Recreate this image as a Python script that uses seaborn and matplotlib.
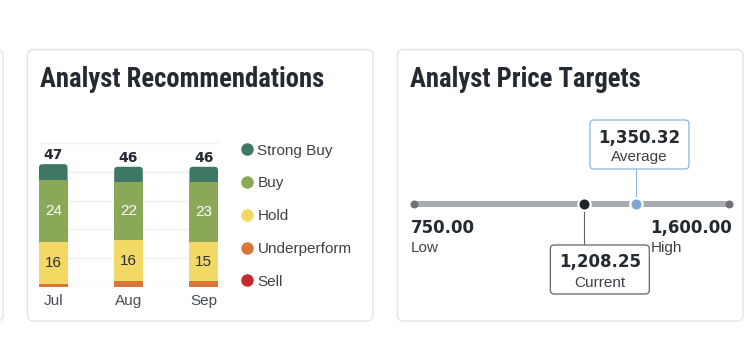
import matplotlib
matplotlib.use("Agg")
import matplotlib.pyplot as plt
from matplotlib.patches import FancyBboxPatch
from matplotlib.lines import Line2D
import pandas as pd
import seaborn as sns

# ---- data -------------------------------------------------------------
months = ["Jul", "Aug", "Sep"]
strong_buy = [6, 6, 6]
buy = [24, 22, 23]
hold = [16, 16, 15]
underperform = [1, 2, 2]
sell = [0, 0, 0]

categories = ["Strong Buy", "Buy", "Hold", "Underperform", "Sell"]
cat_colors = ["#3d7866", "#8aa857", "#f2d865", "#d9773b", "#c42a2e"]

price_low = 750.00
price_high = 1600.00
price_current = 1208.25
price_average = 1350.32
price_labels = ["Low", "High", "Current", "Average"]

# ---- style ------------------------------------------------------------
W, H = 756, 342
sns.set_theme(style="white")
plt.rcParams["font.family"] = ["Liberation Sans", "DejaVu Sans"]

DARK = "#232a31"
TEXT = "#3b4148"
NUM_FONT = dict(family="DejaVu Sans", weight="bold")
WORD_SIZE = 11
NUM_SIZE = 12

fig = plt.figure(figsize=(W / 100, H / 100), dpi=100)
fig.patch.set_facecolor("white")


def px_rect(x0, y0, x1, y1):
    """Axes rectangle from pixel edges (y measured from the top)."""
    return [x0 / W, 1 - y1 / H, (x1 - x0) / W, (y1 - y0) / H]


# pixel-space canvas for cards and titles
bg = fig.add_axes([0, 0, 1, 1], zorder=0)
bg.set_xlim(0, W)
bg.set_ylim(H, 0)
bg.axis("off")

for x0, x1 in [(-40, 3), (27.5, 373), (397.5, 743)]:
    bg.add_patch(FancyBboxPatch((x0, 49.5), x1 - x0, 321 - 49.5,
                                boxstyle="round,pad=0,rounding_size=6",
                                fc="white", ec="#e3e3e3", lw=1))

title_kw = dict(family="Roboto Condensed", weight="bold",
                fontsize=19.2, color=DARK, va="baseline")
bg.text(40, 86.7, "Analyst Recommendations", **title_kw)
bg.text(410, 86.7, "Analyst Price Targets", **title_kw)

# ---- recommendations: stacked bars ------------------------------------
ax = fig.add_axes(px_rect(39, 143.3, 218, 286.7), zorder=1)
ax.patch.set_alpha(0)

df = pd.DataFrame({"month": months, "Strong Buy": strong_buy, "Buy": buy,
                   "Hold": hold, "Underperform": underperform, "Sell": sell})
stack = ["Sell", "Underperform", "Hold", "Buy", "Strong Buy"]
tops = df[stack].cumsum(axis=1)
color_map = dict(zip(categories, cat_colors))

ax.set_ylim(0, 55)
ax.set_yticks([0, 11, 22, 33, 44, 55])
ax.grid(axis="y", color="#efefef", lw=1)
ax.set_axisbelow(True)

bar_w = 0.38
for k, name in enumerate(reversed(stack)):
    n_before = len(ax.patches)
    sns.barplot(x=df["month"], y=tops[name], color=color_map[name],
                width=bar_w, saturation=1, edgecolor="none", linewidth=0,
                ax=ax, zorder=2)
    if k == 0:
        # round the top corners of the outer (total) bars
        ax.set_xlim(-bar_w / 2, len(months) - 1 + bar_w / 2)
        fig.canvas.draw()
        p0 = ax.transData.transform((0, 0))
        p1 = ax.transData.transform((1, 1))
        aspect = (p1[0] - p0[0]) / (p1[1] - p0[1])
        rad_px = 3.5
        for rect in list(ax.patches[n_before:]):
            x, y = rect.get_x(), rect.get_y()
            w, h = rect.get_width(), rect.get_height()
            rect.remove()
            ax.add_patch(FancyBboxPatch(
                (x, y), w, h,
                boxstyle=f"round,pad=0,rounding_size={rad_px / (p1[0] - p0[0])}",
                mutation_aspect=aspect, fc=color_map[name], ec="none",
                lw=0, zorder=2))

ax.set_xlim(-bar_w / 2, len(months) - 1 + bar_w / 2)
ax.set_ylim(0, 55)
ax.set_xlabel("")
ax.set_ylabel("")
sns.despine(ax=ax, left=True, bottom=True)
ax.tick_params(axis="y", length=0, labelleft=False)
ax.tick_params(axis="x", length=0, pad=5, labelsize=WORD_SIZE,
               labelcolor="#464e56")

for i in range(len(months)):
    total = int(tops.loc[i, "Strong Buy"])
    ax.annotate(str(total), xy=(i, total), xytext=(0, 3.6),
                textcoords="offset points", ha="center", va="baseline",
                fontsize=10, color=DARK, zorder=5, **NUM_FONT)
    hold_base = tops.loc[i, "Underperform"]
    ax.text(i, hold_base + hold[i] / 2, str(hold[i]), ha="center",
            va="center", fontsize=WORD_SIZE, color="#2b2f33", zorder=5)
    buy_base = tops.loc[i, "Hold"]
    ax.text(i, buy_base + buy[i] / 2, str(buy[i]), ha="center",
            va="center", fontsize=WORD_SIZE, color="white", zorder=5)

handles = [Line2D([], [], ls="", marker="o", ms=9, mfc=c, mec="none")
           for c in cat_colors]
ax.legend(handles, categories, loc="upper left",
          bbox_to_anchor=(240.6, 143.5), bbox_transform=bg.transData,
          frameon=False, handlelength=0.8, handletextpad=0.3,
          labelspacing=1.23, borderpad=0, borderaxespad=0,
          fontsize=WORD_SIZE, labelcolor="#3d4247")

# ---- price targets: range track ---------------------------------------
pa = fig.add_axes(px_rect(414, 180, 729, 228), zorder=1)
pa.patch.set_alpha(0)
pa.set_xlim(price_low, price_high)
pa.set_ylim(-1, 1)
pa.axis("off")

sns.lineplot(x=[price_low, price_high], y=[0, 0], color="#a8abaf", lw=4.3,
             ax=pa, zorder=1)
pa.lines[-1].set_solid_capstyle("butt")
sns.scatterplot(x=[price_low, price_high], y=[0, 0], s=33, color="#6e7175",
                linewidth=0, ax=pa, zorder=2, clip_on=False)
for val, col in [(price_current, "#1f2429"), (price_average, "#7aa8d8")]:
    sns.scatterplot(x=[val], y=[0], s=110, color="white", linewidth=0,
                    ax=pa, zorder=3, clip_on=False)
    sns.scatterplot(x=[val], y=[0], s=52, color=col, linewidth=0,
                    ax=pa, zorder=4, clip_on=False)

to_bg = bg.transData.inverted()


def to_px(v):
    return to_bg.transform(pa.transData.transform((v, 0)))


low_x, track_y = to_px(price_low)
high_x, _ = to_px(price_high)
cur_x, _ = to_px(price_current)
avg_x, _ = to_px(price_average)

# low / high end labels
bg.text(low_x - 3, 233.3, f"{price_low:,.2f}", ha="left", va="baseline",
        fontsize=NUM_SIZE, color=DARK, zorder=5, **NUM_FONT)
bg.text(low_x - 3, 252.3, price_labels[0], ha="left", va="baseline",
        fontsize=WORD_SIZE, color=TEXT, zorder=5)
hi_txt = bg.text(high_x + 3, 233.3, f"{price_high:,.2f}", ha="right",
                 va="baseline", fontsize=NUM_SIZE, color=DARK, zorder=5,
                 **NUM_FONT)
fig.canvas.draw()
hb = hi_txt.get_window_extent().transformed(to_bg)
bg.text(min(hb.x0, hb.x1), 252.3, price_labels[1], ha="left", va="baseline",
        fontsize=WORD_SIZE, color=TEXT, zorder=5)


def callout(cx, y0, y1, number, label, edge, num_base, lab_base):
    bw = 99
    bg.add_patch(FancyBboxPatch((cx - bw / 2, y0), bw, y1 - y0,
                                boxstyle="round,pad=0,rounding_size=4",
                                fc="white", ec=edge, lw=0.9, zorder=6))
    bg.text(cx, num_base, f"{number:,.2f}", ha="center", va="baseline",
            fontsize=NUM_SIZE, color=DARK, zorder=7, **NUM_FONT)
    bg.text(cx, lab_base, label, ha="center", va="baseline",
            fontsize=WORD_SIZE, color=TEXT, zorder=7)


# average callout above the track
bg.plot([avg_x, avg_x], [169, track_y - 5], color="#8cb4dd", lw=0.8, zorder=5)
callout(avg_x + 3, 120, 169, price_average, price_labels[3], "#8cb4dd",
        143.3, 160.7)

# current callout below the track
bg.plot([cur_x, cur_x], [track_y + 5, 245], color="#5f656b", lw=0.8, zorder=5)
callout(cur_x + 16, 245, 294, price_current, price_labels[2], "#5f656b",
        266.7, 286.7)

fig.savefig("out.png", dpi=100, facecolor="white")
